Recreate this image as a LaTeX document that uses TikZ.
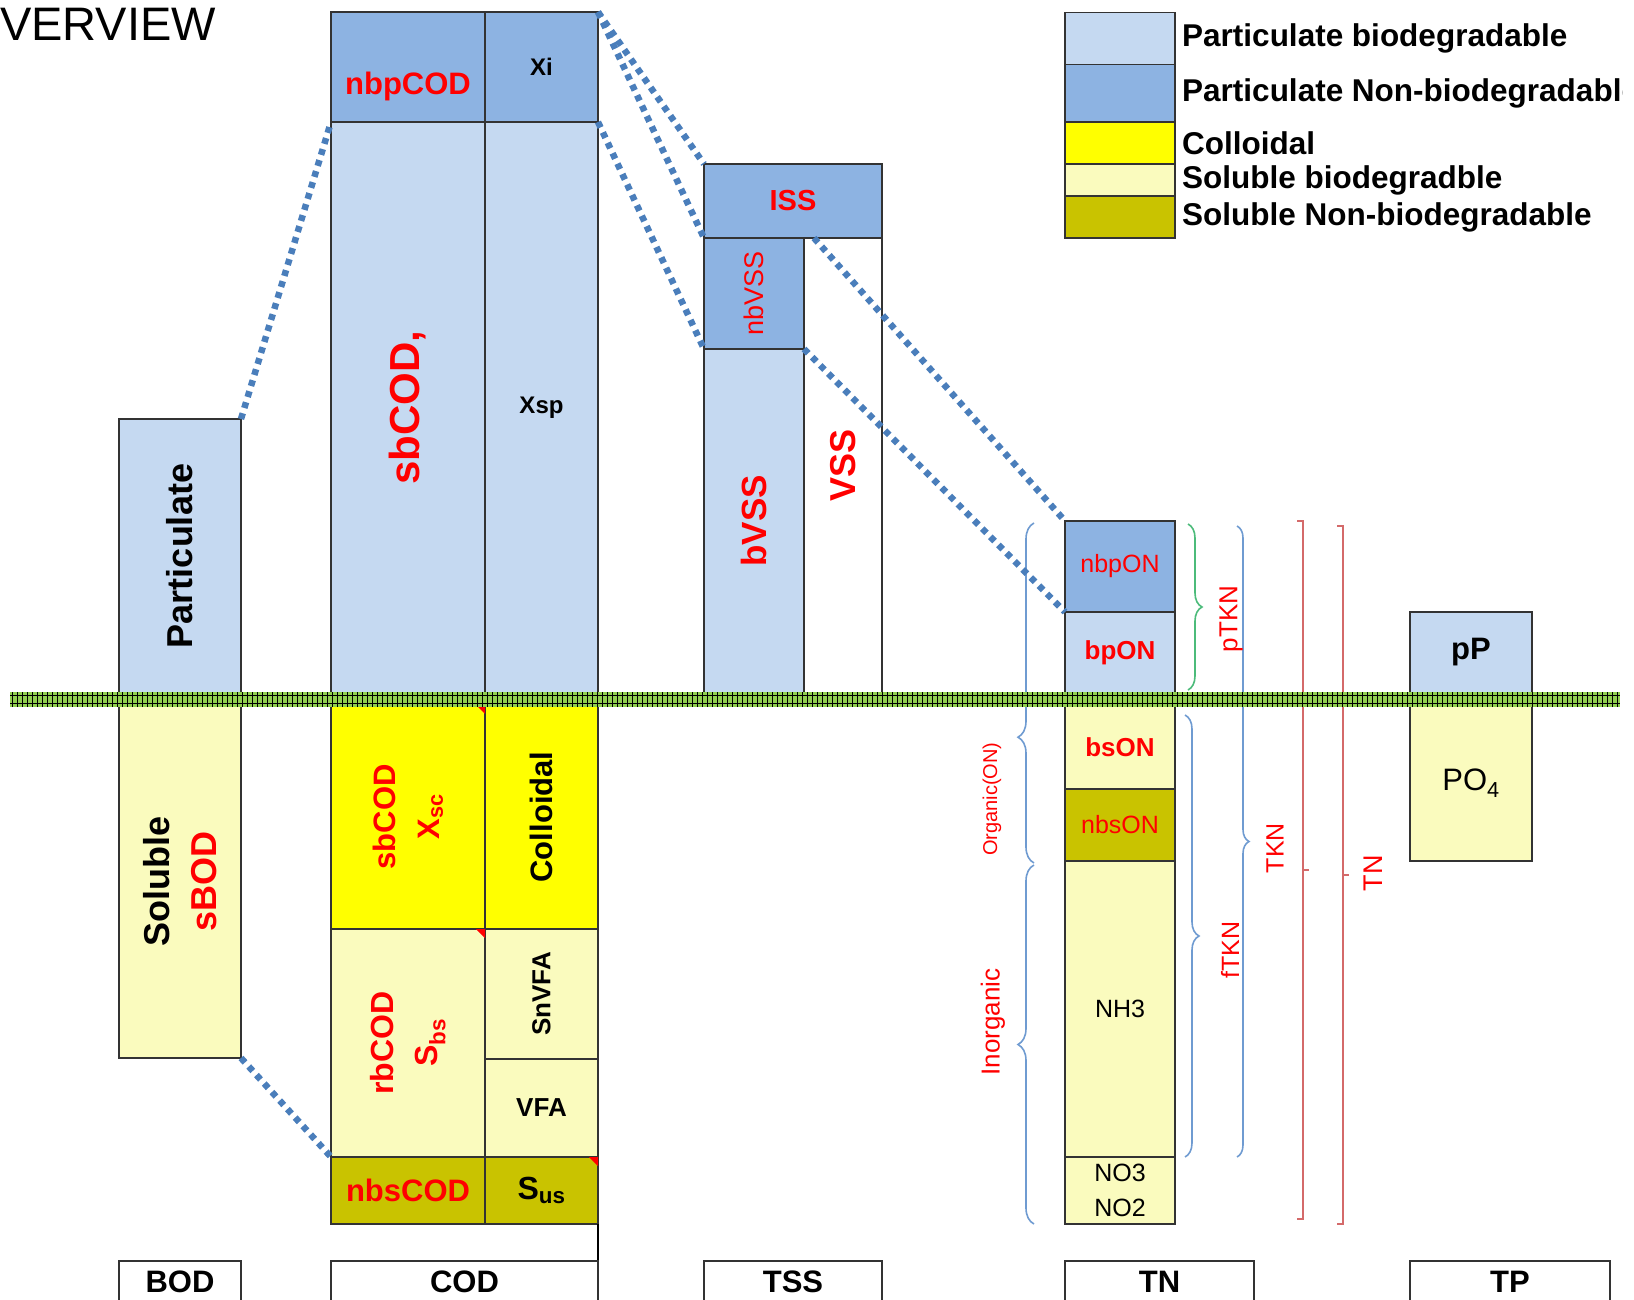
\documentclass[tikz,border=0pt]{standalone}
\usepackage{fontspec}
\setmainfont{Liberation Sans}
\usetikzlibrary{positioning,calc,decorations.pathreplacing}
\definecolor{partbio}{HTML}{C5D9F1}
\definecolor{partnb}{HTML}{8DB3E2}
\definecolor{colloid}{HTML}{FFFF00}
\definecolor{solbio}{HTML}{FAFBBE}
\definecolor{solnb}{HTML}{C9C300}
\definecolor{linkblue}{HTML}{4A7EBB}
\definecolor{bracketblue}{HTML}{6F9BD1}
\definecolor{bracketgreen}{HTML}{4CBB7A}
\definecolor{bracketred}{HTML}{D46A6A}
\definecolor{band}{HTML}{92D050}
\newcommand\sz[2]{\fontsize{#1}{#2}\selectfont}

\begin{document}
\begin{tikzpicture}[x=1pt, y=-1pt,
  cell/.style={draw=black!80, line width=1.6pt, inner sep=0pt, outer sep=0pt, anchor=north west},
  pb/.style={cell, fill=partbio},
  pn/.style={cell, fill=partnb},
  col/.style={cell, fill=colloid},
  sb/.style={cell, fill=solbio},
  sn/.style={cell, fill=solnb},
  txt/.style={inner sep=0pt, align=center},
  link/.style={draw=linkblue, line width=6.5pt, dash pattern=on 6pt off 5.5pt},
  brc/.style={line width=1.6pt, decorate, decoration={brace, amplitude=#1}},
  brc/.default=15,
  redbr/.style={draw=bracketred, line width=1.6pt}]

  \useasboundingbox (0,0) rectangle (1634,1300);
  \clip (0,0) rectangle (1622,1300);

  \node[txt, anchor=base west, font=\sz{47}{56}] (title) at (0,41) {VERVIEW};

  % BOD
  \node[pb, minimum width=122pt, minimum height=274pt] (bodp) at (119,419) {};
  \node[sb, minimum width=122pt, minimum height=353pt] (bods) at (119,705) {};
  \node[txt, rotate=90, font=\sz{36}{46}\bfseries] (bodptxt) at (bodp.center) {Particulate};
  \node[txt, rotate=90, font=\sz{36}{47}\bfseries] (bodstxt) at (bods.center) {Soluble\\\textcolor{red}{sBOD}};

  % COD
  \node[pn, minimum width=154pt, minimum height=110pt] (nbpcod) at (331,12) {};
  \node[pn, minimum width=113pt, minimum height=110pt] (xi) at (485,12) {};
  \node[pb, minimum width=154pt, minimum height=571pt] (sbcod) at (331,122) {};
  \node[pb, minimum width=113pt, minimum height=571pt] (xsp) at (485,122) {};
  \node[col, minimum width=154pt, minimum height=224pt] (xsc) at (331,705) {};
  \node[col, minimum width=113pt, minimum height=224pt] (colloid) at (485,705) {};
  \node[sb, minimum width=154pt, minimum height=228pt] (rbcod) at (331,929) {};
  \node[sb, minimum width=113pt, minimum height=130pt] (snvfa) at (485,929) {};
  \node[sb, minimum width=113pt, minimum height=98pt] (vfa) at (485,1059) {};
  \node[sn, minimum width=154pt, minimum height=67pt] (nbscod) at (331,1157) {};
  \node[sn, minimum width=113pt, minimum height=67pt] (sus) at (485,1157) {};
  \draw[line width=1.6pt] (sus.south east) -- ++(0,90);

  \node[txt, text=red, font=\sz{31}{37}\bfseries] (nbpcodtxt) at ($(nbpcod.center)+(0,19)$) {nbpCOD};
  \node[txt, font=\sz{24}{29}\bfseries] (xitxt) at (xi.center) {Xi};
  \node[txt, rotate=90, text=red, font=\sz{42}{50}\bfseries] (sbcodtxt) at (sbcod.center) {sbCOD,};
  \node[txt, font=\sz{24}{29}\bfseries] (xsptxt) at (xsp.center) {Xsp};
  \node[txt, rotate=90, text=red, font=\sz{31}{44}\bfseries] (xsctxt) at (xsc.center) {sbCOD\\X\textsubscript{sc}};
  \node[txt, rotate=90, font=\sz{31}{37}\bfseries] (colloidtxt) at (colloid.center) {Colloidal};
  \node[txt, rotate=90, text=red, font=\sz{32}{44}\bfseries] (rbcodtxt) at (rbcod.center) {rbCOD\\S\textsubscript{bs}};
  \node[txt, rotate=90, font=\sz{26}{31}\bfseries] (snvfatxt) at (snvfa.center) {SnVFA};
  \node[txt, font=\sz{26}{31}\bfseries] (vfatxt) at (vfa.center) {VFA};
  \node[txt, text=red, font=\sz{31}{37}\bfseries] (nbscodtxt) at (nbscod.center) {nbsCOD};
  \node[txt, font=\sz{32}{38}\bfseries] (sustxt) at (sus.center) {S\textsubscript{us}};

  \fill[red] ([xshift=-9pt]xsc.north east) -- (xsc.north east) -- ([yshift=-9pt]xsc.north east) -- cycle;
  \fill[red] ([xshift=-9pt]rbcod.north east) -- (rbcod.north east) -- ([yshift=-9pt]rbcod.north east) -- cycle;
  \fill[red] ([xshift=-9pt]sus.north east) -- (sus.north east) -- ([yshift=-9pt]sus.north east) -- cycle;

  % TSS
  \node[pn, minimum width=178pt, minimum height=74pt] (iss) at (704,164) {};
  \node[pn, minimum width=100pt, minimum height=111pt] (nbvss) at (704,238) {};
  \node[pb, minimum width=100pt, minimum height=344pt] (bvss) at (704,349) {};
  \node[cell, fill=white, minimum width=78pt, minimum height=455pt] (vss) at (804,238) {};
  \node[txt, text=red, font=\sz{29}{35}\bfseries] (isstxt) at (iss.center) {ISS};
  \node[txt, rotate=90, text=red, font=\sz{27}{32}] (nbvsstxt) at (nbvss.center) {nbVSS};
  \node[txt, rotate=90, text=red, font=\sz{35}{42}\bfseries] (bvsstxt) at (bvss.center) {bVSS};
  \node[txt, rotate=90, text=red, font=\sz{36}{43}\bfseries] (vsstxt) at (vss.center) {VSS};

  % TN
  \node[pn, minimum width=110pt, minimum height=91pt] (nbpon) at (1065,521) {};
  \node[pb, minimum width=110pt, minimum height=81pt] (bpon) at (1065,612) {};
  \node[sb, minimum width=110pt, minimum height=84pt] (bson) at (1065,705) {};
  \node[sn, minimum width=110pt, minimum height=72pt] (nbson) at (1065,789) {};
  \node[sb, minimum width=110pt, minimum height=296pt] (nh3) at (1065,861) {};
  \node[sb, minimum width=110pt, minimum height=67pt] (noxn) at (1065,1157) {};
  \node[txt, text=red, font=\sz{25}{30}] (nbpontxt) at (nbpon.center) {nbpON};
  \node[txt, text=red, font=\sz{26}{31}\bfseries] (bpontxt) at (bpon.center) {bpON};
  \node[txt, text=red, font=\sz{26}{31}\bfseries] (bsontxt) at (bson.center) {bsON};
  \node[txt, text=red, font=\sz{25}{30}] (nbsontxt) at (nbson.center) {nbsON};
  \node[txt, font=\sz{25}{30}] (nh3txt) at (nh3.center) {NH3};
  \node[txt, font=\sz{25}{35}] (noxntxt) at (noxn.center) {NO3\\NO2};

  % TP
  \node[pb, minimum width=122pt, minimum height=81pt] (pp) at (1410,612) {};
  \node[sb, minimum width=122pt, minimum height=156pt] (po4) at (1410,705) {};
  \node[txt, font=\sz{31}{37}\bfseries] (pptxt) at (pp.center) {pP};
  \node[txt, font=\sz{31}{37}] (po4txt) at (po4.center) {PO\textsubscript{4}};

  % braces round TN
  \draw[brc=16, bracketblue, decoration={aspect=0.37}] ($(nbson.south west)+(-31,2)$) -- ($(nbpon.north west)+(-31,2)$);
  \draw[brc=16, bracketblue] ($(noxn.south west)+(-31,0)$) -- ($(nh3.north west)+(-31,4)$);
  \draw[brc=14, bracketgreen] ($(nbpon.north east)+(13,3)$) -- ($(bpon.south east)+(13,-3)$);
  \draw[brc=14, bracketblue] ($(bson.north east)+(10,10)$) -- ($(nh3.south east)+(10,0)$);
  \draw[brc=12, bracketblue] ($(nbpon.north east)+(62,5)$) -- ($(nh3.south east)+(62,0)$);
  \draw[redbr] (1297,521) -| (1303,1219) -- (1297,1219) (1303,870) -- (1309,870);
  \draw[redbr] (1337,526) -| (1343,1224) -- (1337,1224) (1343,875) -- (1349,875);

  \node[txt, rotate=90, text=red, font=\sz{20}{24}] (orgtxt) at (992,799) {Organic(ON)};
  \node[txt, rotate=90, text=red, font=\sz{26}{31}] (inorgtxt) at (993,1022) {Inorganic};
  \node[txt, rotate=90, text=red, font=\sz{26}{31}] (ptkntxt) at (1231,619) {pTKN};
  \node[txt, rotate=90, text=red, font=\sz{25}{30}] (ftkntxt) at (1230,950) {fTKN};
  \node[txt, rotate=90, text=red, font=\sz{25}{30}] (tkntxt) at (1275,848) {TKN};
  \node[txt, rotate=90, text=red, font=\sz{27}{32}] (tntxt) at (1373,873) {TN};

  % dotted links
  \draw[link] (bodp.north east) -- (sbcod.north west);
  \draw[link] (bods.south east) -- (nbscod.north west);
  \draw[link] (xi.north east) -- (iss.north west);
  \draw[link] (xi.north east) -- (nbvss.north west);
  \draw[link] (xsp.north east) -- (bvss.north west);
  \draw[link] ([xshift=10pt]vss.north west) -- (nbpon.north west);
  \draw[link] (bvss.north east) -- (bpon.north west);

  % legend
  \node[pb, minimum width=110pt, minimum height=52pt] (keypb) at (1065,12.5) {};
  \node[pn, minimum width=110pt, minimum height=57.5pt] (keypn) at (1065,64.5) {};
  \node[col, minimum width=110pt, minimum height=42pt] (keycol) at (1065,122) {};
  \node[sb, minimum width=110pt, minimum height=32pt] (keysb) at (1065,164) {};
  \node[sn, minimum width=110pt, minimum height=42pt] (keysn) at (1065,196) {};
  \node[txt, anchor=west, font=\sz{31.5}{36}\bfseries, right=7pt of keypb] (keypbtxt) {Particulate biodegradable};
  \node[txt, anchor=west, font=\sz{31.5}{36}\bfseries, right=7pt of keypn] (keypntxt) {Particulate Non-biodegradable};
  \node[txt, anchor=west, font=\sz{31.5}{36}\bfseries, right=7pt of keycol] (keycoltxt) {Colloidal};
  \node[txt, anchor=west, font=\sz{31.5}{36}\bfseries, right=7pt of keysb] (keysbtxt) {Soluble biodegradble};
  \node[txt, anchor=west, font=\sz{31.5}{36}\bfseries, right=7pt of keysn] (keysntxt) {Soluble Non-biodegradable};

  % solid / soluble divide
  \fill[band] (10,692) rectangle (1620,707);
  \draw[line width=1pt] (10,695.5) -- (1620,695.5) (10,703.5) -- (1620,703.5);
  \foreach \x in {12,17,...,1620}
    \draw[line width=1pt] (\x,692) -- (\x,707);

  % parameter tabs
  \node[cell, fill=white, minimum width=122pt, minimum height=60pt] (bodtab) at (119,1261) {};
  \node[cell, fill=white, minimum width=267pt, minimum height=60pt] (codtab) at (331,1261) {};
  \node[cell, fill=white, minimum width=178pt, minimum height=60pt] (tsstab) at (704,1261) {};
  \node[cell, fill=white, minimum width=189pt, minimum height=60pt] (tntab) at (1065,1261) {};
  \node[cell, fill=white, minimum width=200pt, minimum height=60pt] (tptab) at (1410,1261) {};
  \foreach \t/\s in {bodtab/BOD, codtab/COD, tsstab/TSS, tntab/TN, tptab/TP}
    \node[txt, font=\sz{31}{37}\bfseries] (\t txt) at ($(\t.north)+(0,21)$) {\s};
\end{tikzpicture}
\end{document}
